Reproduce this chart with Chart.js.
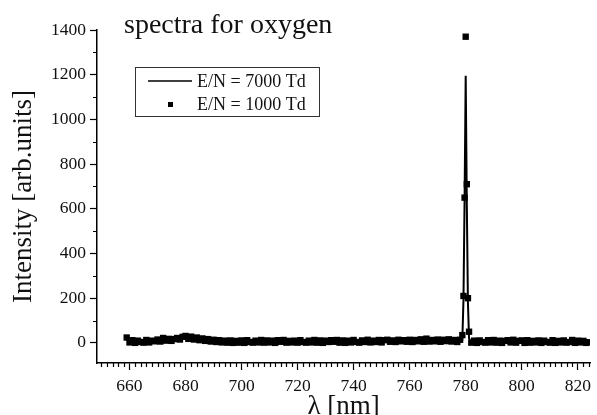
<!DOCTYPE html>
<html>
<head>
<meta charset="utf-8">
<script src="https://cdn.jsdelivr.net/npm/chart.js@4/dist/chart.umd.min.js"></script>
<style>
  html, body { margin: 0; padding: 0; background: #fff; }
  #grafico { display: block; }
</style>
</head>
<body>
<canvas id="grafico" width="597" height="415"></canvas>
<script>
// comprimento de onda (nm), mesmo eixo para as duas series
const lambda = [
    659, 660, 661, 662, 663, 664, 665, 666, 667, 668,
    669, 670, 671, 672, 673, 674, 675, 676, 677, 678,
    679, 680, 681, 682, 683, 684, 685, 686, 687, 688,
    689, 690, 691, 692, 693, 694, 695, 696, 697, 698,
    699, 700, 701, 702, 703, 704, 705, 706, 707, 708,
    709, 710, 711, 712, 713, 714, 715, 716, 717, 718,
    719, 720, 721, 722, 723, 724, 725, 726, 727, 728,
    729, 730, 731, 732, 733, 734, 735, 736, 737, 738,
    739, 740, 741, 742, 743, 744, 745, 746, 747, 748,
    749, 750, 751, 752, 753, 754, 755, 756, 757, 758,
    759, 760, 761, 762, 763, 764, 765, 766, 767, 768,
    769, 770, 771, 772, 773, 774, 775, 776, 777, 778,
    778.8, 779.2, 779.6, 780.0, 780.4, 780.8, 781.2,
    782, 783, 784, 785, 786, 787, 788, 789, 790, 791,
    792, 793, 794, 795, 796, 797, 798, 799, 800, 801,
    802, 803, 804, 805, 806, 807, 808, 809, 810, 811,
    812, 813, 814, 815, 816, 817, 818, 819, 820, 821,
    822, 823, 824
];

// E/N = 7000 Td (linha)
const intensidade7000 = [
    14, 4, 2, 9, 3, 1, 8, 12, 3, 9,
    13, 6, 14, 19, 11, 9, 16, 12, 20, 15,
    24, 28, 19, 25, 16, 20, 13, 17, 9, 14,
    7, 12, 5, 10, 3, 8, 2, 7, 1, 6,
    1, 8, 2, 9, 1, 6, 0, 7, 9, 2,
    7, 8, 2, 1, 8, 9, 3, 6, 1, 7,
    2, 8, 3, 9, 2, 1, 7, 8, 2, 7,
    1, 6, 8, 3, 9, 8, 2, 7, 1, 6,
    3, 9, 8, 2, 7, 4, 10, 3, 6, 8,
    9, 3, 8, 10, 4, 7, 8, 4, 11, 8,
    4, 10, 8, 3, 11, 10, 4, 12, 10, 4,
    11, 6, 9, 5, 12, 11, 6, 9, 4, 10,
    15, 190, 640, 1195, 620, 180, 20,
    2, 0, 7, 1, 8, 2, 1, 7, 9, 2,
    7, 1, 6, 8, 2, 9, 2, 1, 7, 2,
    8, 2, 1, 7, 0, 6, 8, 1, 6, 7,
    1, 0, 6, 7, 1, 6, 0, 5, 7, 2,
    5, 0, 6
];

// E/N = 1000 Td (pontos)
const intensidade1000 = [
    24, 2, 12, 0, 10, 4, 1, 13, 2, 10,
    7, 15, 6, 22, 10, 18, 9, 17, 22, 15,
    27, 31, 18, 28, 15, 24, 12, 20, 9, 17,
    6, 14, 4, 12, 2, 10, 1, 11, 0, 9,
    1, 11, 0, 12, 4, 1, 10, 2, 13, 1,
    11, 2, 10, 0, 12, 5, 13, 1, 9, 2,
    10, 1, 12, 4, 1, 10, 2, 13, 1, 11,
    0, 10, 4, 12, 5, 13, 1, 11, 0, 10,
    2, 13, 4, 1, 11, 4, 14, 2, 10, 4,
    13, 2, 12, 14, 5, 11, 4, 14, 7, 12,
    5, 14, 4, 13, 7, 16, 5, 19, 6, 13,
    7, 15, 5, 14, 8, 16, 6, 13, 4, 14,
    35, 210, 650, 1370, 710, 200, 50,
    1, 10, 0, 11, 4, 1, 12, 2, 13, 1,
    10, 0, 9, 12, 2, 14, 1, 9, 11, 0,
    12, 1, 9, 2, 11, 0, 10, 4, 1, 12,
    0, 9, 2, 11, 1, 4, 13, 0, 10, 2,
    9, 0, 3
];

const ticksX = [660, 680, 700, 720, 740, 760, 780, 800, 820];
const ticksXMenores = [650, 652, 654, 656, 658, 662, 664, 666, 668, 670, 672, 674, 676, 678,
    682, 684, 686, 688, 690, 692, 694, 696, 698, 702, 704, 706, 708, 710, 712, 714, 716, 718,
    722, 724, 726, 728, 730, 732, 734, 736, 738, 742, 744, 746, 748, 750, 752, 754, 756, 758,
    762, 764, 766, 768, 770, 772, 774, 776, 778, 782, 784, 786, 788, 790, 792, 794, 796, 798,
    802, 804, 806, 808, 810, 812, 814, 816, 818, 822, 824];
const ticksY = [0, 200, 400, 600, 800, 1000, 1200, 1400];
const ticksYMenores = [100, 300, 500, 700, 900, 1100, 1300];

const legenda = ['E/N = 7000 Td', 'E/N = 1000 Td'];
const titulo = 'spectra for oxygen';

const fonte = 'Liberation Serif';

function pontos(ys) {
    return lambda.map(function (x, i) { return { x: x, y: ys[i] }; });
}

// ticks menores + titulo + legenda (desenhados depois do grafico)
const extras = {
    id: 'extras',
    afterDraw: function (chart) {
        const ctx = chart.ctx;
        const sx = chart.scales.x;
        const sy = chart.scales.y;
        const area = chart.chartArea;
        ctx.save();
        ctx.strokeStyle = '#000';
        ctx.lineWidth = 1.2;
        ctx.beginPath();
        ticksXMenores.forEach(function (v) {
            const px = Math.round(sx.getPixelForValue(v)) + 0.5;
            if (px < area.left || px > area.right) return;
            ctx.moveTo(px, area.bottom);
            ctx.lineTo(px, area.bottom + 4);
        });
        ticksYMenores.forEach(function (v) {
            const py = Math.round(sy.getPixelForValue(v)) + 0.5;
            ctx.moveTo(area.left, py);
            ctx.lineTo(area.left - 4, py);
        });
        ctx.stroke();

        // titulo
        ctx.fillStyle = '#111';
        ctx.font = '28px "' + fonte + '"';
        ctx.textBaseline = 'alphabetic';
        ctx.textAlign = 'left';
        ctx.fillText(titulo, 124, 33);

        // legenda
        ctx.lineWidth = 1;
        ctx.strokeStyle = '#333';
        ctx.strokeRect(135.5, 67.5, 184, 49);
        ctx.strokeStyle = '#000';
        ctx.lineWidth = 1.5;
        ctx.beginPath();
        ctx.moveTo(148, 81);
        ctx.lineTo(192, 81);
        ctx.stroke();
        ctx.fillStyle = '#000';
        ctx.fillRect(168, 102, 5, 5);
        ctx.fillStyle = '#111';
        ctx.font = '18px "' + fonte + '"';
        ctx.textBaseline = 'middle';
        ctx.fillText(legenda[0], 197, 82);
        ctx.fillText(legenda[1], 197, 105);
        ctx.restore();
    }
};

const config = {
    type: 'line',
    data: {
        datasets: [{
            label: legenda[0],
            data: pontos(intensidade7000),
            borderColor: '#000',
            borderWidth: 2,
            pointRadius: 0,
            fill: false,
            tension: 0
        }, {
            label: legenda[1],
            data: pontos(intensidade1000),
            showLine: false,
            pointStyle: 'rect',
            pointRadius: 4.5,
            backgroundColor: '#000',
            borderColor: '#000',
            borderWidth: 0
        }]
    },
    options: {
        responsive: false,
        animation: false,
        devicePixelRatio: 1,
        layout: { padding: { top: 30, right: 0, left: 0, bottom: 0 } },
        plugins: {
            legend: { display: false },
            tooltip: { enabled: false }
        },
        scales: {
            x: {
                type: 'linear',
                min: 648.4,
                max: 824.4,
                afterBuildTicks: function (scale) {
                    scale.ticks = ticksX.map(function (v) { return { value: v }; });
                },
                afterFit: function (scale) { scale.height = 52; },
                border: { color: '#000', width: 1.5 },
                grid: { drawOnChartArea: false, drawTicks: true, tickLength: 7, tickColor: '#000', tickWidth: 1.2 },
                ticks: {
                    color: '#111', padding: 6, maxRotation: 0,
                    font: { family: fonte, size: 17.5 },
                    callback: function (v) { return String(v); }
                },
                title: {
                    display: true,
                    text: 'λ [nm]',
                    color: '#111',
                    font: { family: fonte, size: 27 },
                    padding: { top: 0, bottom: -8 }
                }
            },
            y: {
                min: -90,
                max: 1400,
                afterBuildTicks: function (scale) {
                    scale.ticks = ticksY.map(function (v) { return { value: v }; });
                },
                afterFit: function (scale) { scale.width = 97; },
                border: { color: '#000', width: 1.5 },
                grid: { drawOnChartArea: false, drawTicks: true, tickLength: 7, tickColor: '#000', tickWidth: 1.2 },
                ticks: {
                    color: '#111', padding: 4,
                    font: { family: fonte, size: 17.5 },
                    callback: function (v) { return String(v); }
                },
                title: {
                    display: true,
                    text: 'Intensity [arb.units]',
                    color: '#111',
                    font: { family: fonte, size: 27 },
                    padding: { top: 8, bottom: 0 }
                }
            }
        }
    },
    plugins: [extras]
};

let grafico = new Chart(document.getElementById('grafico'), config);
</script>
</body>
</html>
